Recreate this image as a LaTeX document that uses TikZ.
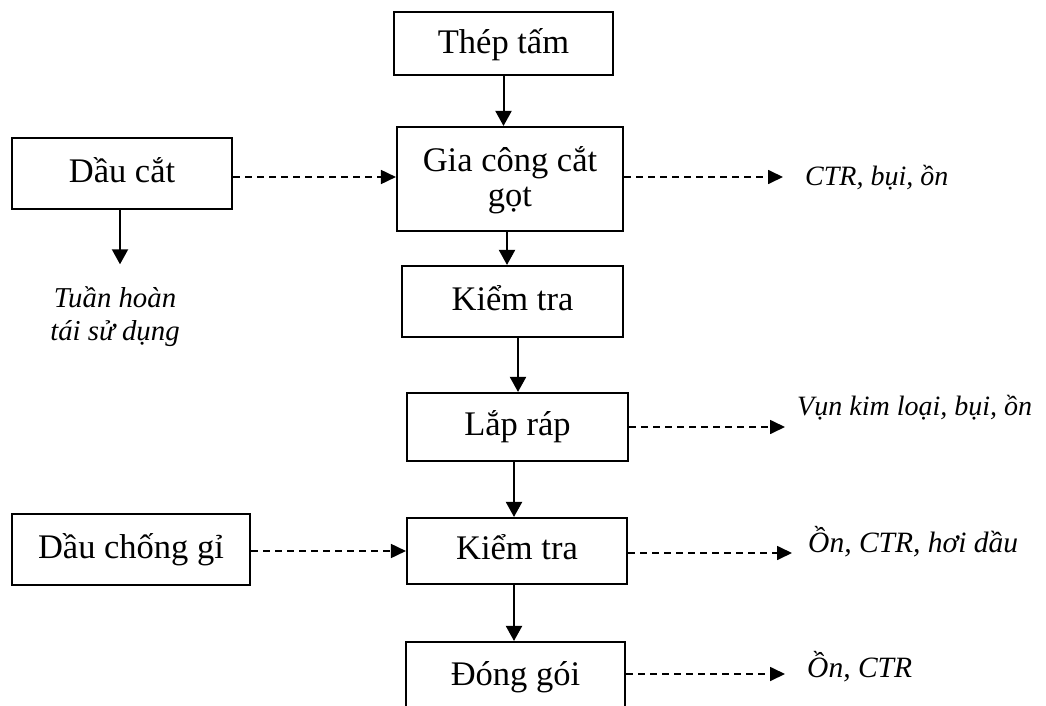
\documentclass[tikz,border=0pt]{standalone}
\usepackage{fontspec}
\setmainfont{Liberation Serif}
\usetikzlibrary{arrows.meta,calc}
% two centred lines whose first baseline sits at the node centre
\newcommand\twoline[3]{\smash{\raisebox{#1}{\begin{tabular}[t]{@{}c@{}}#2\\#3\end{tabular}}}}
\begin{document}
\begin{tikzpicture}[x=1pt,y=-1pt,
  boxbase/.style={draw, line width=2.1pt, inner sep=0pt,
    font=\fontsize{34.5pt}{35pt}\selectfont},
  box/.style={boxbase, text height=24pt, text depth=7pt},
  lbl/.style={inner sep=0pt, anchor=base west,
    font=\fontsize{28pt}{33pt}\selectfont\itshape},
  arr/.style={line width=2pt, -{Triangle[length=15pt,width=16pt]}},
  dasharr/.style={line width=1.7pt, dash pattern=on 7pt off 5pt,
    -{Triangle[length=15pt,width=14pt]}}]
\useasboundingbox (0,0) rectangle (1046,706);
\clip (0,0) rectangle (1046,706);

% main process column
\node[box, minimum width=219pt, minimum height=63pt,
      text height=25pt, text depth=5pt] (thep) at (503.5,43.5) {Thép tấm};
\node[boxbase, minimum width=226pt, minimum height=104pt]
      (gia) at (510,179) {\twoline{8pt}{Gia công cắt}{gọt}};
\node[box, minimum width=221pt, minimum height=71pt] (kt1) at (512.5,301.5) {Kiểm tra};
\node[box, minimum width=221pt, minimum height=68pt] (lap) at (517.5,427) {Lắp ráp};
\node[box, minimum width=220pt, minimum height=66pt] (kt2) at (517,551) {Kiểm tra};
\node[box, minimum width=219pt, minimum height=70pt] (dong) at (515.5,677) {Đóng gói};

% inputs
\node[box, minimum width=220pt, minimum height=71pt] (dc) at (122,173.5) {Dầu cắt};
\node[box, minimum width=238pt, minimum height=71pt] (dcg) at (131,549.5) {Dầu chống gỉ};
\node[inner sep=0pt, font=\fontsize{28.8pt}{33pt}\selectfont\itshape]
      (tuan) at (115,307) {\twoline{0pt}{Tuần hoàn}{tái sử dụng}};

% outputs
\node[lbl] (c1) at (805,185) {CTR, bụi, ồn};
\node[lbl] (c2) at (797,415) {Vụn kim loại, bụi, ồn};
\node[lbl, font=\fontsize{29.5pt}{33pt}\selectfont\itshape] (c3) at (808,552) {Ồn, CTR, hơi dầu};
\node[lbl, font=\fontsize{29.5pt}{33pt}\selectfont\itshape] (c4) at (807,677) {Ồn, CTR};

% process flow
\draw[arr] (thep.south) -- (thep.south |- gia.north);
\draw[arr] ($(gia.south)+(-3,0)$) -- ($(gia.south |- kt1.north)+(-3,0)$);
\draw[arr] ($(kt1.south)+(5.5,0)$) -- ($(kt1.south |- lap.north)+(5.5,0)$);
\draw[arr] ($(lap.south)+(-3.5,0)$) -- ($(lap.south |- kt2.north)+(-3.5,0)$);
\draw[arr] ($(kt2.south)+(-3,0)$) -- ($(kt2.south |- dong.north)+(-3,0)$);
\draw[arr, shorten >=42pt] ($(dc.south)+(-2,0)$) -- ($(dc.south |- tuan.north)+(-2,0)$);

% material inputs and emissions
\draw[dasharr] ($(gia.west -| dc.east)+(0,-2)$) -- ($(gia.west)+(0,-2)$);
\draw[dasharr] (kt2.west -| dcg.east) -- (kt2.west);
\draw[dasharr, shorten >=22pt] ($(gia.east)+(0,-2)$) -- ($(gia.east -| c1.west)+(0,-2)$);
\draw[dasharr, shorten >=12pt] (lap.east) -- (lap.east -| c2.west);
\draw[dasharr, shorten >=16pt] ($(kt2.east)+(0,2)$) -- ($(kt2.east -| c3.west)+(0,2)$);
\draw[dasharr, shorten >=22pt] ($(dong.east)+(0,-3)$) -- ($(c4.west |- dong.east)+(0,-3)$);
\end{tikzpicture}
\end{document}
